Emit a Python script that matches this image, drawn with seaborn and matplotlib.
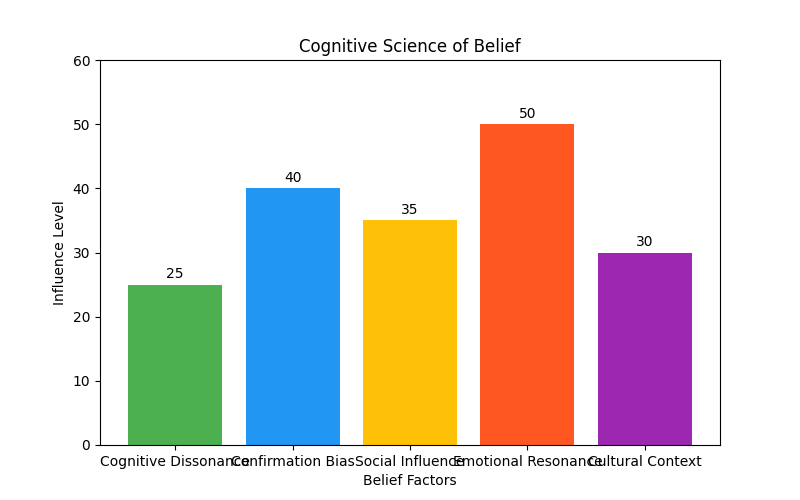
import matplotlib
matplotlib.use("Agg")
import matplotlib.pyplot as plt
import seaborn as sns
import pandas as pd

categories = ["Cognitive Dissonance", "Confirmation Bias", "Social Influence",
              "Emotional Resonance", "Cultural Context"]
values = [25, 40, 35, 50, 30]
colors = ["#4CAF50", "#2196F3", "#FFC107", "#FF5722", "#9C27B0"]

df = pd.DataFrame({"Belief Factors": categories, "Influence Level": values})

fig, ax = plt.subplots(figsize=(8, 5), dpi=100)
sns.barplot(data=df, x="Belief Factors", y="Influence Level", hue="Belief Factors",
            palette=colors, saturation=1, width=0.8, legend=False, ax=ax)

n = len(categories)
pad = 0.05 * (n - 1 + 0.8)
ax.set_xlim(-0.4 - pad, n - 1 + 0.4 + pad)
ax.set_ylim(0, 60)

for c in ax.containers:
    ax.bar_label(c, padding=2.3, fontsize=10)

ax.set_title("Cognitive Science of Belief")
ax.set_xlabel("Belief Factors")
ax.set_ylabel("Influence Level")

fig.savefig("out.png", dpi=100)
